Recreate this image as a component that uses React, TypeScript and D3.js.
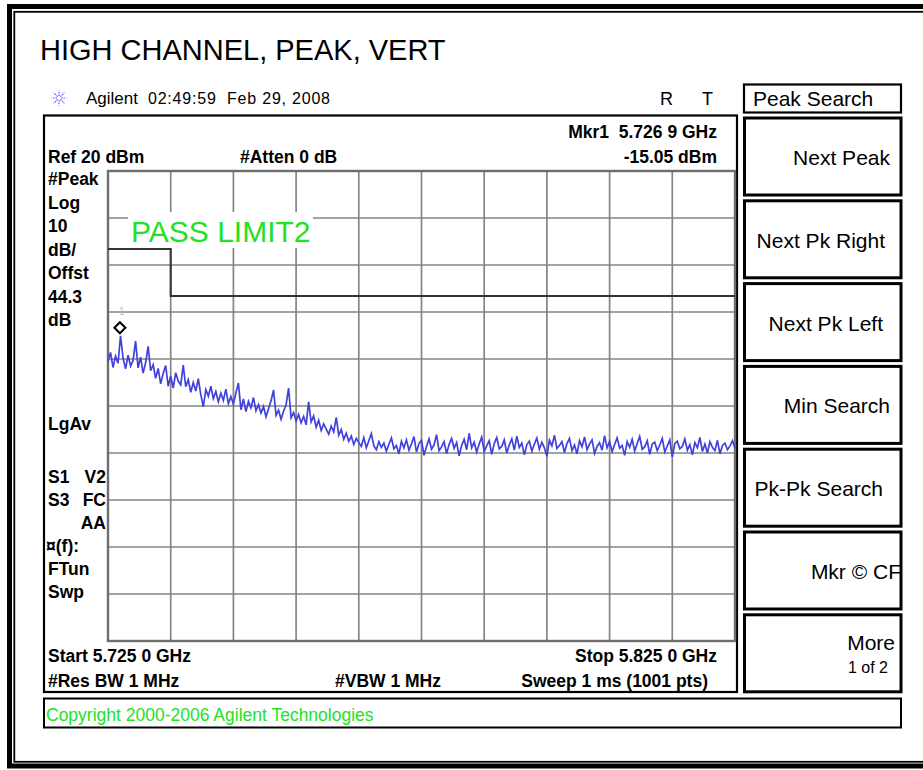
import * as d3 from 'd3'
import { useEffect, useRef } from 'react'

// sweep settings, as shown on the analyser
const startGHz = 5.725
const stopGHz = 5.825
const refLevel = 20
const bottomLevel = -80

const freqDivs = [5.725, 5.735, 5.745, 5.755, 5.765, 5.775, 5.785, 5.795, 5.805, 5.815, 5.825]
const levelDivs = [20, 10, 0, -10, -20, -30, -40, -50, -60, -70, -80]

// limit line 2 (dBm)
const limitFreqs = [5.725, 5.735, 5.735, 5.825]
const limitLevels = [3.4, 3.4, -6.6, -6.6]

const markerFreq = 5.7269
const markerLevel = -15.05

// trace, dBm, 251 points across the span
const traceLevels = [
  -20.5, -18.6, -21.8, -19.4, -20.9, -15.05, -19.8, -22.1, -19.2, -21.5,
  -20.3, -16.2, -21.9, -19.6, -23.0, -20.8, -17.3, -22.5, -21.2, -24.1,
  -22.0, -25.3, -23.1, -21.4, -25.8, -23.6, -26.2, -22.9, -24.7, -25.5,
  -21.3, -25.9, -24.4, -27.1, -25.0, -26.8, -24.2, -27.6, -30.2, -26.5,
  -27.9, -25.8, -28.4, -26.9, -29.1, -27.3, -28.8, -26.4, -29.5, -28.0,
  -29.6, -27.2, -25.1, -30.8, -28.5, -31.2, -29.0, -30.4, -28.2, -31.0,
  -29.7, -31.5, -30.1, -32.3, -30.6, -28.9, -26.6, -32.0, -30.9, -32.8,
  -31.1, -29.8, -26.2, -32.5, -31.4, -33.2, -31.8, -33.6, -32.2, -34.0,
  -29.1, -33.4, -32.1, -34.5, -33.0, -35.2, -33.8, -34.9, -36.0, -34.3,
  -35.5, -32.4, -36.2, -35.0, -37.1, -35.8, -37.5, -36.4, -38.2, -36.9,
  -37.8, -38.6, -36.7, -38.9, -37.4, -35.9, -38.5, -39.3, -37.6, -38.8,
  -37.9, -39.6, -38.2, -36.8, -39.1, -38.4, -40.2, -37.5, -38.9, -37.2,
  -39.4, -38.1, -36.5, -39.8, -38.0, -37.3, -40.5, -38.6, -37.0, -39.2,
  -38.3, -36.1, -39.5, -38.7, -37.6, -40.1, -38.2, -36.9, -39.0, -37.8,
  -40.6, -38.4, -37.1, -39.3, -35.8, -38.9, -37.7, -39.8, -38.1, -36.6,
  -39.7, -38.5, -37.4, -40.3, -38.0, -36.7, -39.1, -38.6, -37.2, -40.0,
  -38.3, -37.0, -39.4, -36.4, -38.8, -37.9, -40.4, -38.2, -37.5, -39.6,
  -38.1, -36.8, -39.2, -37.7, -38.9, -40.7, -37.3, -38.5, -36.2, -39.0,
  -38.4, -37.6, -39.9, -38.0, -36.9, -39.5, -38.3, -40.2, -37.4, -38.7,
  -36.6, -39.3, -38.1, -37.2, -40.1, -38.6, -37.8, -39.4, -36.3, -38.9,
  -37.5, -39.7, -38.2, -36.8, -39.0, -38.4, -40.5, -37.6, -38.8, -37.1,
  -39.6, -38.0, -36.5, -39.2, -38.7, -37.4, -40.3, -38.1, -37.7, -39.5,
  -38.3, -36.9, -39.8, -38.5, -37.2, -40.8, -38.0, -37.5, -39.1, -38.6,
  -37.0, -39.4, -38.2, -40.4, -37.8, -38.9, -36.7, -39.7, -38.1, -40.0,
  -37.6, -38.8, -39.5, -37.3, -40.2, -38.4, -37.9, -39.3, -38.5, -37.4, -39.0,
]

const leftAnnotations = ['#Peak', 'Log', '10', 'dB/', 'Offst', '44.3', 'dB']
const softkeys = ['Next Peak', 'Next Pk Right', 'Next Pk Left', 'Min Search', 'Pk-Pk Search', 'Mkr © CF']
const softkeyRight = [890, 885, 883, 890, 883, 901]

const FONT = '"Liberation Sans", Arial, sans-serif'
const GREEN = '#1ee31e'

export default function App() {
  const svgRef = useRef(null) as any

  useEffect(() => {
    const svg = d3.select(svgRef.current)
    svg.selectAll('*').remove()

    const x = d3.scaleLinear().domain([startGHz, stopGHz]).range([108, 735])
    const y = d3.scaleLinear().domain([refLevel, bottomLevel]).range([171, 641])

    const text = (str: string, tx: number, ty: number, size: number, opts: any = {}) => {
      const t = svg.append('text')
        .attr('x', tx)
        .attr('y', ty)
        .attr('font-family', FONT)
        .attr('font-size', size)
        .attr('font-weight', opts.bold ? 'bold' : 'normal')
        .attr('fill', opts.fill || '#000')
        .attr('text-anchor', opts.anchor || 'start')
        .text(str)
      return t
    }

    // outer page frame (double line)
    svg.append('rect').attr('x', 9.5).attr('y', 6.5).attr('width', 940).attr('height', 759.5)
      .attr('fill', 'none').attr('stroke', '#000').attr('stroke-width', 5)
    svg.append('rect').attr('x', 14.3).attr('y', 11.8).attr('width', 930).attr('height', 750)
      .attr('fill', 'none').attr('stroke', '#000').attr('stroke-width', 1.8)

    text('HIGH CHANNEL, PEAK, VERT', 40, 60, 29)

    // agilent spark
    const spark = svg.append('g').attr('transform', 'translate(59,98)')
    d3.range(8).forEach(k => {
      const a = (k * Math.PI) / 4
      spark.append('line')
        .attr('x1', Math.cos(a) * 2).attr('y1', Math.sin(a) * 2)
        .attr('x2', Math.cos(a) * 7.5).attr('y2', Math.sin(a) * 7.5)
        .attr('stroke', '#5a5aff').attr('stroke-width', 1.2).attr('stroke-dasharray', '1.5,1')
    })

    text('Agilent', 86, 104, 17)
    text('02:49:59  Feb 29, 2008', 148, 104, 16).attr('textLength', 182).style('white-space', 'pre')
    text('R', 660, 105, 18)
    text('T', 702, 105, 18)

    // display box
    svg.append('rect').attr('x', 44).attr('y', 115.5).attr('width', 693).attr('height', 576.5)
      .attr('fill', 'none').attr('stroke', '#000').attr('stroke-width', 2.2)

    // graticule
    svg.append('g').selectAll('line').data(freqDivs).join('line')
      .attr('x1', d => x(d)).attr('x2', d => x(d))
      .attr('y1', y(refLevel)).attr('y2', y(bottomLevel))
      .attr('stroke', '#858585').attr('stroke-width', 1.7)
    svg.append('g').selectAll('line').data(levelDivs).join('line')
      .attr('x1', x(startGHz)).attr('x2', x(stopGHz))
      .attr('y1', d => y(d)).attr('y2', d => y(d))
      .attr('stroke', '#858585').attr('stroke-width', 1.7)
    svg.append('rect')
      .attr('x', x(startGHz)).attr('y', y(refLevel))
      .attr('width', x(stopGHz) - x(startGHz)).attr('height', y(bottomLevel) - y(refLevel))
      .attr('fill', 'none').attr('stroke', '#6e6e6e').attr('stroke-width', 2.4)

    // limit label with its white backing
    svg.append('rect').attr('x', 128).attr('y', 212).attr('width', 185).attr('height', 36).attr('fill', '#fff')
    text('PASS LIMIT2', 131, 242, 30, { fill: GREEN })

    const limitData = limitFreqs.map((f, i) => [f, limitLevels[i]] as [number, number])
    svg.append('path')
      .attr('d', d3.line<[number, number]>().x(d => x(d[0])).y(d => y(d[1]))(limitData))
      .attr('fill', 'none').attr('stroke', '#333').attr('stroke-width', 2)

    // trace
    const step = (stopGHz - startGHz) / (traceLevels.length - 1)
    const traceLine = d3.line<number>()
      .x((_, i) => x(startGHz + i * step))
      .y(d => y(d))
    svg.append('path')
      .attr('d', traceLine(traceLevels))
      .attr('fill', 'none').attr('stroke', '#4141dc').attr('stroke-width', 1.7)
      .attr('stroke-linejoin', 'miter')

    // marker 1
    const mx = x(markerFreq)
    const my = y(markerLevel) - 8
    svg.append('path')
      .attr('d', `M${mx},${my - 5.5}L${mx + 5.5},${my}L${mx},${my + 5.5}L${mx - 5.5},${my}Z`)
      .attr('fill', '#fff').attr('stroke', '#000').attr('stroke-width', 2)
    text('1', mx - 1, my - 13, 10, { fill: '#bdbdbd' })

    // annotations inside the display
    const B = { bold: true }
    text('Mkr1  5.726 9 GHz', 717, 138, 17.5, { bold: true, anchor: 'end' }).style('white-space', 'pre')
    text('Ref 20 dBm', 48, 163, 17.5, B)
    text('#Atten 0 dB', 240, 163, 17.5, B)
    text('-15.05 dBm', 717, 163, 17.5, { bold: true, anchor: 'end' })

    leftAnnotations.forEach((s, i) => text(s, 48, 185 + i * 23.5, 17.5, B))
    text('LgAv', 48, 430, 17.5, B)
    text('S1', 48, 483, 17.5, B)
    text('V2', 106, 483, 17.5, { bold: true, anchor: 'end' })
    text('S3', 48, 506, 17.5, B)
    text('FC', 106, 506, 17.5, { bold: true, anchor: 'end' })
    text('AA', 106, 529, 17.5, { bold: true, anchor: 'end' })
    text('¤(f):', 46, 552, 17.5, B)
    text('FTun', 48, 575, 17.5, B)
    text('Swp', 48, 598, 17.5, B)

    text('Start 5.725 0 GHz', 48, 662, 17.5, B)
    text('Stop 5.825 0 GHz', 717, 662, 17.5, { bold: true, anchor: 'end' })
    text('#Res BW 1 MHz', 48, 687, 17.5, B)
    text('#VBW 1 MHz', 335, 687, 17.5, B)
    text('Sweep 1 ms (1001 pts)', 708, 687, 17.5, { bold: true, anchor: 'end' })

    // copyright strip
    svg.append('rect').attr('x', 44).attr('y', 698.5).attr('width', 857).attr('height', 29)
      .attr('fill', 'none').attr('stroke', '#000').attr('stroke-width', 2)
    text('Copyright 2000-2006 Agilent Technologies', 46, 721, 17.5, { fill: GREEN })

    // softkeys
    svg.append('rect').attr('x', 744).attr('y', 84.5).attr('width', 157).attr('height', 28)
      .attr('fill', 'none').attr('stroke', '#000').attr('stroke-width', 2.2)
    text('Peak Search', 753, 106, 21)

    const keyTop = (k: number) => 118 + k * 82.8
    d3.range(7).forEach(k => {
      svg.append('rect').attr('x', 744.5).attr('y', keyTop(k)).attr('width', 156.5).attr('height', 77)
        .attr('fill', 'none').attr('stroke', '#000').attr('stroke-width', 3)
    })
    softkeys.forEach((s, k) => text(s, softkeyRight[k], keyTop(k) + 47, 21, { anchor: 'end' }))
    text('More', 895, keyTop(6) + 35, 21, { anchor: 'end' })
    text('1 of 2', 888, keyTop(6) + 58, 16, { anchor: 'end' })
  }, [])

  return (
    <svg ref={svgRef} width={923} height={770}
      style={{ position: 'absolute', left: 0, top: 0, background: '#fff' }} />
  )
}
